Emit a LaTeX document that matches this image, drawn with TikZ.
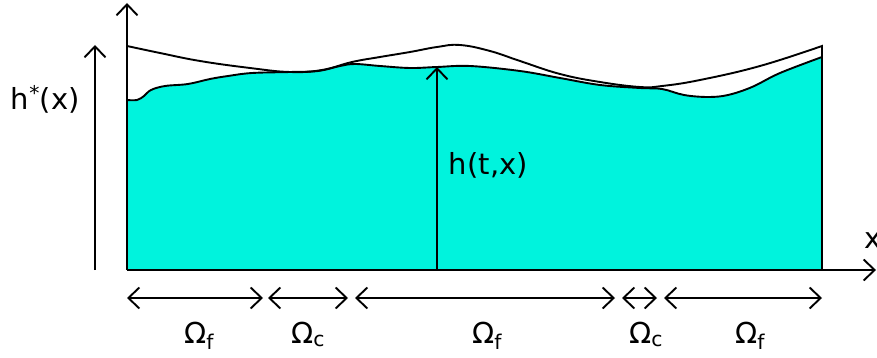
\documentclass[tikz,border=0pt]{standalone}
\usepackage{fontspec}
\setmainfont{DejaVu Sans}
\usepackage{xcolor}
\usetikzlibrary{arrows.meta}
\definecolor{watercol}{HTML}{00F3DD}

\begin{document}
\begin{tikzpicture}[x=1pt,y=-1pt,line width=1.9pt,
  >={Straight Barb[length=11pt,width=21pt,line width=1.9pt]},
  lbl/.style={font=\fontsize{29}{34}\selectfont,inner sep=0pt},
  dim/.style={<->}]
\useasboundingbox (0,0) rectangle (877,358);
% water region and free surface
\fill[watercol] (127,270) -- (127,100) -- plot[smooth,tension=0.6] coordinates {
  (127,100) (137,100) (144,96) (151,90) (165,86) (188,84) (210,79) (228,76)
  (252,73) (290,72) (318,71) (340,66) (355,64) (380,66) (410,68) (437,67)
  (470,66) (520,71) (560,78) (600,85) (640,88) (662,89) (684,95) (708,97)
  (728,95) (752,87) (780,73) (822,57)} -- (822,270) -- cycle;
\draw plot[smooth,tension=0.6] coordinates {
  (127,100) (137,100) (144,96) (151,90) (165,86) (188,84) (210,79) (228,76)
  (252,73) (290,72) (318,71) (340,66) (355,64) (380,66) (410,68) (437,67)
  (470,66) (520,71) (560,78) (600,85) (640,88) (662,89) (684,95) (708,97)
  (728,95) (752,87) (780,73) (822,57)};
% target height
\draw plot[smooth,tension=0.7] coordinates {
  (127,46) (160,53) (200,61) (250,68) (290,72) (322,70) (352,62) (380,57)
  (410,52) (437,47) (460,45) (490,51) (520,61) (560,74) (600,82) (640,87)
  (662,86) (700,80) (760,66) (822,46)} -- (822,270);
% axes
\coordinate (o) at (127,270);
\coordinate (ytop) at (127,3);
\coordinate (xend) at (876,270);
\draw[->] (o) -- (ytop);
\draw[->] (o) -- (xend);
\node[lbl,anchor=base west] (xl) at (864,248) {x};
% h* arrow
\coordinate (hs0) at (95,270);
\coordinate (hs1) at (95,45);
\draw[->] (hs0) -- (hs1);
\node[lbl,anchor=base west] (hsl) at (10,110) {h\textsuperscript{*}(x)};
% h(t,x) arrow
\coordinate (h0) at (437,270);
\coordinate (h1) at (437,67);
\draw[->] (h0) -- (h1);
\node[lbl,anchor=base west] (hl) at (448,175) {h(t,x)};
% subdomains
\coordinate (a0) at (127,298); \coordinate (a1) at (263,298);
\coordinate (b0) at (268,298); \coordinate (b1) at (348,298);
\coordinate (c0) at (355,298); \coordinate (c1) at (615,298);
\coordinate (d0) at (622,298); \coordinate (d1) at (657,298);
\coordinate (e0) at (664,298); \coordinate (e1) at (822,298);
\draw[dim] (a0) -- (a1); \draw[dim] (b0) -- (b1); \draw[dim] (c0) -- (c1);
\draw[dim] (d0) -- (d1); \draw[dim] (e0) -- (e1);
\node[lbl,anchor=base] (wa) at (199,343) {Ω\textsubscript{f}};
\node[lbl,anchor=base] (wb) at (308,343) {Ω\textsubscript{c}};
\node[lbl,anchor=base] (wc) at (487,343) {Ω\textsubscript{f}};
\node[lbl,anchor=base] (wd) at (646,343) {Ω\textsubscript{c}};
\node[lbl,anchor=base] (we) at (750,343) {Ω\textsubscript{f}};
\end{tikzpicture}
\end{document}
